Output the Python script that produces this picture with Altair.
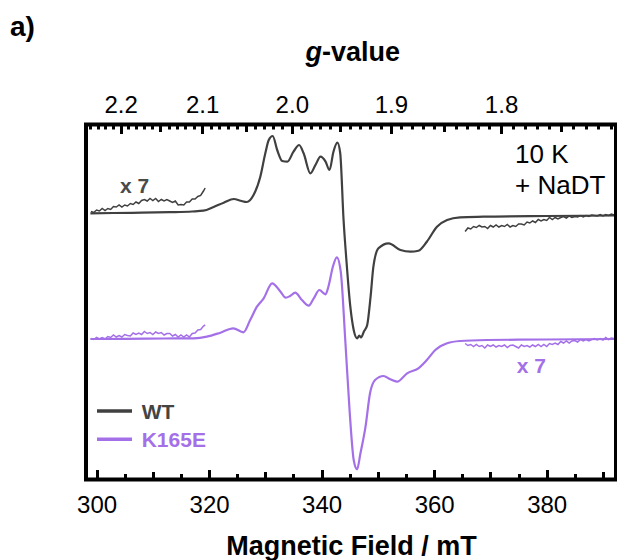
import altair as alt
import pandas as pd

FONT = "Liberation Sans"
WT_COLOR = "#404040"
MUT_COLOR = "#a470e8"
K_GB = 669.4  # g * B (mT) at the spectrometer frequency

# ---------------- data (field in mT, signal in arbitrary units) ----------
WT_B = [298.9, 303.0, 308.0, 313.0, 317.0, 319.0, 320.8, 322.6, 324.4, 325.6,
        326.7, 327.9, 329.1, 330.0, 330.6, 331.3, 332.1, 333.0, 333.9, 335.0,
        336.0, 336.8, 338.0, 338.9, 339.8, 340.7, 341.4, 342.1, 342.8, 343.3,
        343.9, 344.4, 345.1, 345.7, 346.3, 346.7, 347.0, 347.5, 348.1, 348.7,
        349.2, 350.1, 351.9, 354.0, 355.8, 357.2, 358.7, 360.5, 362.3, 364.6,
        368.8, 380.0, 392.3]
WT_V = [265.7, 266.0, 266.3, 266.8, 267.5, 268.3, 272.0, 276.3, 280.0, 278.3,
        277.0, 284.0, 302.3, 326.0, 339.0, 343.0, 329.0, 318.0, 317.3, 327.3,
        334.0, 325.7, 305.7, 314.0, 322.3, 317.3, 309.0, 327.3, 336.3, 326.0,
        259.0, 219.0, 172.3, 149.0, 140.7, 143.5, 141.5, 147.3, 154.0, 182.3,
        212.3, 230.7, 235.7, 229.0, 227.3, 228.3, 237.3, 252.3, 259.0, 261.7,
        262.3, 263.0, 263.5]

MUT_B = [298.9, 305.0, 312.0, 317.3, 319.6, 322.0, 324.3, 326.1, 327.3, 328.5,
         329.7, 331.2, 332.7, 333.6, 334.4, 335.3, 336.5, 337.7, 338.6, 339.6,
         340.7, 341.2, 342.0, 342.7, 343.4, 344.2, 345.0, 345.7, 346.3, 346.9,
         347.8, 348.6, 349.5, 351.0, 352.2, 353.4, 355.2, 357.2, 358.7, 360.2,
         362.3, 364.6, 369.4, 380.0, 392.3]
MUT_V = [140.0, 140.2, 140.5, 140.7, 142.3, 146.3, 150.7, 146.7, 159.0, 172.3,
         180.7, 195.7, 187.3, 181.3, 183.0, 186.3, 179.0, 173.3, 180.7, 189.0,
         184.7, 192.3, 212.3, 221.7, 207.3, 139.0, 65.7, 19.0, 9.7, 25.7,
         52.3, 85.7, 99.0, 103.0, 99.7, 97.3, 105.7, 110.7, 119.0, 129.0,
         135.7, 138.0, 139.0, 139.5, 140.0]

# x 7 magnified (noisy) wings
NOISE_L_B = [299.0, 299.5, 300.0, 300.5, 301.0, 301.5, 302.0, 302.5, 303.0, 303.5,
             304.0, 304.5, 305.0, 305.5, 306.0, 306.5, 307.0, 307.5, 308.0, 308.5,
             309.0, 309.5, 310.0, 310.5, 311.0, 311.5, 312.0, 312.5, 313.0, 313.5,
             314.0, 314.5, 315.0, 315.5, 316.0, 316.5, 317.0, 317.5, 318.0, 318.5,
             319.0, 319.3]
NOISE_R_B = [365.5, 366.0, 366.5, 367.0, 367.5, 368.0, 368.5, 369.0, 369.5, 370.0,
             370.5, 371.0, 371.5, 372.0, 372.5, 373.0, 373.5, 374.0, 374.5, 375.0,
             375.5, 376.0, 376.5, 377.0, 377.5, 378.0, 378.5, 379.0, 379.5, 380.0,
             380.5, 381.0, 381.5, 382.0, 382.5, 383.0, 383.5, 384.0, 384.5, 385.0,
             385.5, 386.0, 386.5, 387.0, 387.5, 388.0, 388.5, 389.0, 389.5, 390.0,
             390.5, 391.0, 391.5, 392.0]
WT_X7_L = [267.5, 266.5, 269, 268, 270.5, 268.5, 270.5, 269.5, 272.5, 272,
           274, 272, 274, 273, 275.5, 274.5, 277, 275.5, 278.5, 279.5,
           278, 280.5, 278.5, 280.5, 277.5, 279.5, 278, 279.5, 278, 276.5,
           278, 274, 274.5, 274, 277, 277, 280, 280, 282.5, 283.5,
           288, 291]
WT_X7_R = [247.5, 251, 250, 252.5, 251.5, 253.5, 252, 252.5, 250.5, 253.5,
           252, 254, 252, 253.5, 252.5, 254.5, 252, 253.5, 252.5, 255,
           255, 254, 257, 256, 258, 256.5, 259.5, 258, 259.5, 258.5,
           261.5, 259.5, 261.5, 260, 261.5, 262.5, 261, 263, 261.5, 262.5,
           262, 263.5, 262, 263.5, 262.5, 264, 263.5, 263, 264.5, 263,
           264.5, 263.5, 265, 264]
MUT_X7_L = [140.5, 139.5, 141.5, 140, 141.5, 140, 142.5, 141.5, 144, 142,
            143.5, 142, 144.5, 143.5, 143, 146, 144.5, 146, 144.5, 147.5,
            145.5, 146.5, 144.5, 147, 145.5, 146.5, 144, 145.5, 145.5, 143,
            144.5, 142, 144, 142, 144, 142, 145.5, 146, 149, 149.5,
            153, 154]
MUT_X7_R = [135.5, 133.5, 134.5, 132.5, 134.5, 132.5, 133.5, 131, 134, 132.5,
            134, 132, 133.5, 132.5, 134, 131.5, 133.5, 134, 132.5, 131,
            134, 132.5, 133.5, 132, 134, 132.5, 134.5, 132.5, 134.5, 132.5,
            135.5, 134.5, 136, 134.5, 137.5, 136, 138, 136, 138, 138.5,
            137, 139.5, 138, 139.5, 138, 139.5, 140.5, 139, 140.5, 139,
            141.5, 139.5, 141, 140.5]

# axis ticks
FIELD_MAJOR = [300, 320, 340, 360, 380]
FIELD_MID = [310, 330, 350, 370, 390]
FIELD_MINOR = [305, 315, 325, 335, 345, 355, 365, 375, 385]
G_MAJOR = [2.2, 2.1, 2.0, 1.9, 1.8]
G_MID = [2.15, 2.05, 1.95, 1.85, 1.75]
G_MINOR = [round(1.71 + 0.01 * i, 2) for i in range(54)]
G_MINOR = [g for g in G_MINOR if round(g * 100) % 5 != 0]

W, H = 530, 355
x_scale = alt.Scale(domain=[298.12, 392.32], nice=False, zero=False)
y_scale = alt.Scale(domain=[-0.5, 354.5], nice=False, zero=False)


def tick_axis(orient, values, size, **kw):
    base = dict(orient=orient, values=values, tickSize=size, offset=-size,
                tickWidth=3, tickColor="black", domain=False, grid=False,
                labels=False, title=None)
    base.update(kw)
    return alt.Axis(**base)


label_kw = dict(labels=True, labelFont=FONT, labelFontSize=24, labelColor="black",
                labelBaseline="alphabetic", labelOverlap=False, labelFlush=False)

ax_bottom_major = tick_axis(
    "bottom", FIELD_MAJOR, 10, labelPadding=33, **label_kw,
    title="Magnetic Field / mT", titleFont=FONT, titleFontSize=27,
    titleFontWeight="bold", titleColor="black", titleX=W / 2, titleY=84.5,
    titleAlign="center", titleBaseline="alphabetic", titleAngle=0)
ax_bottom_mid = tick_axis("bottom", FIELD_MID, 8)
ax_bottom_minor = tick_axis("bottom", FIELD_MINOR, 6)
ax_top_major = tick_axis("top", [K_GB / g for g in G_MAJOR], 9, labelPadding=12,
                         labelExpr=f"format({K_GB} / datum.value, '.1f')", **label_kw)
ax_top_mid = tick_axis("top", [K_GB / g for g in G_MID], 7)
ax_top_minor = tick_axis("top", [K_GB / g for g in G_MINOR], 4.5)

y_axis = alt.Axis(title="EPR Signal", labels=False, ticks=False, domain=False, grid=False,
                  titleFont=FONT, titleFontSize=26, titleFontWeight="bold", titleColor="black",
                  titleAngle=270, titleX=-31, titleY=H / 2, titleAlign="center",
                  titleBaseline="alphabetic")


def line_layer(bs, vs, color, width, xaxis, yaxis=None, interp="monotone"):
    df = pd.DataFrame({"field": bs, "signal": vs})
    return alt.Chart(df).mark_line(color=color, strokeWidth=width, interpolate=interp).encode(
        x=alt.X("field:Q", scale=x_scale, axis=xaxis),
        y=alt.Y("signal:Q", scale=y_scale, axis=yaxis),
    )


wt_main = line_layer(WT_B, WT_V, WT_COLOR, 2.2, ax_bottom_major, y_axis)
mut_main = line_layer(MUT_B, MUT_V, MUT_COLOR, 2.2, ax_bottom_mid)
wt_l = line_layer(NOISE_L_B, WT_X7_L, WT_COLOR, 1.5, ax_bottom_minor, interp="linear")
wt_r = line_layer(NOISE_R_B, WT_X7_R, WT_COLOR, 1.5, ax_top_major, interp="linear")
mut_l = line_layer(NOISE_L_B, MUT_X7_L, MUT_COLOR, 1.5, ax_top_mid, interp="linear")
mut_r = line_layer(NOISE_R_B, MUT_X7_R, MUT_COLOR, 1.5, ax_top_minor, interp="linear")

frame = alt.Chart(pd.DataFrame({"s": [0]})).mark_rect(
    fillOpacity=0, stroke="black", strokeWidth=4
).encode(x=alt.value(0), x2=alt.value(W), y=alt.value(0), y2=alt.value(H))


def note(text, x, y, size, color="black", weight="bold", style="normal", align="left"):
    return alt.Chart(pd.DataFrame({"t": [text]})).mark_text(
        align=align, baseline="alphabetic", font=FONT, fontSize=size,
        fontWeight=weight, fontStyle=style, color=color,
    ).encode(text="t:N", x=alt.value(x), y=alt.value(y))


def legend_line(color, y):
    return alt.Chart(pd.DataFrame({"s": [0]})).mark_rule(color=color, strokeWidth=3.5).encode(
        x=alt.value(11), x2=alt.value(46), y=alt.value(y))


notes = [
    note("a)", -76, -88.5, 28),
    note("g", 219.5, -63.5, 27, style="italic"),
    note("-value", 236, -63.5, 27),
    note("x 7", 34, 68.8, 21, color="#4a4a4a"),
    note("x 7", 430.7, 248.8, 21, color=MUT_COLOR),
    note("10 K", 429, 38.8, 26, weight="normal"),
    note("+ NaDT", 429, 69.5, 26, weight="normal"),
    legend_line(WT_COLOR, 286.5),
    legend_line(MUT_COLOR, 314.8),
    note("WT", 55.7, 294.5, 21, color="#444444"),
    note("K165E", 55.7, 322.2, 21, color=MUT_COLOR),
]

chart = alt.layer(wt_main, mut_main, wt_l, wt_r, mut_l, mut_r, frame, *notes).resolve_axis(
    x="independent"
).properties(
    width=W, height=H,
    autosize=alt.AutoSizeParams(type="none"),
    padding={"left": 86, "top": 124.5, "right": 1, "bottom": 80.5},
).configure_view(strokeWidth=0)

chart.save("out.html", embed_options={"renderer": "svg", "actions": False})
